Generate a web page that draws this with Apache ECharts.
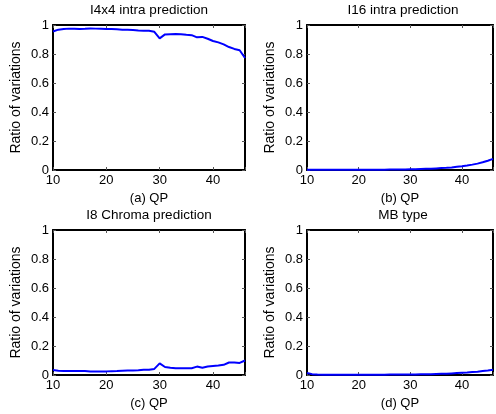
<!DOCTYPE html>
<html>
<head>
<meta charset="utf-8">
<script src="https://cdn.jsdelivr.net/npm/echarts@6/dist/echarts.min.js"></script>
<style>
  html, body { margin: 0; padding: 0; background: #fff; }
  #chart { width: 496px; height: 414px; }
</style>
</head>
<body>
<div id="chart"></div>
<script>
// Quantization parameter values shared by all four panels
const qp = [10, 11, 12, 13, 14, 15, 16, 17, 18, 19, 20, 21, 22, 23, 24, 25, 26, 27, 28,
            29, 30, 31, 32, 33, 34, 35, 36, 37, 38, 39, 40, 41, 42, 43, 44, 45, 46];

// Ratio of variations per prediction mode
const i4x4Intra = [0.955, 0.968, 0.973, 0.975, 0.974, 0.973, 0.974, 0.976, 0.975, 0.974,
                   0.973, 0.972, 0.970, 0.968, 0.967, 0.965, 0.962, 0.960, 0.960, 0.953,
                   0.908, 0.935, 0.937, 0.938, 0.937, 0.932, 0.930, 0.915, 0.918, 0.905,
                   0.890, 0.880, 0.866, 0.848, 0.835, 0.826, 0.772];
const i16Intra = [0.001, 0.001, 0.001, 0.001, 0.001, 0.001, 0.001, 0.001, 0.001, 0.001,
                  0.001, 0.001, 0.002, 0.002, 0.002, 0.002, 0.003, 0.003, 0.004, 0.004,
                  0.005, 0.006, 0.007, 0.008, 0.009, 0.011, 0.013, 0.015, 0.018, 0.022,
                  0.026, 0.031, 0.037, 0.044, 0.053, 0.064, 0.077];
const i8Chroma = [0.034, 0.030, 0.028, 0.028, 0.028, 0.028, 0.027, 0.024, 0.024, 0.025,
                  0.025, 0.026, 0.027, 0.030, 0.031, 0.031, 0.033, 0.037, 0.036, 0.042,
                  0.080, 0.055, 0.050, 0.046, 0.046, 0.047, 0.047, 0.058, 0.050, 0.059,
                  0.062, 0.065, 0.070, 0.086, 0.086, 0.083, 0.100];
const mbType = [0.014, 0.006, 0.003, 0.002, 0.002, 0.002, 0.002, 0.002, 0.002, 0.002,
                0.002, 0.002, 0.002, 0.002, 0.002, 0.002, 0.003, 0.003, 0.003, 0.003,
                0.004, 0.004, 0.005, 0.005, 0.006, 0.007, 0.008, 0.009, 0.011, 0.013,
                0.015, 0.017, 0.020, 0.023, 0.027, 0.031, 0.036];

const panelTitles = ['I4x4 intra prediction', 'I16 intra prediction', 'I8 Chroma prediction', 'MB type'];
const panelXNames = ['(a) QP', '(b) QP', '(c) QP', '(d) QP'];
const panelSeries = [i4x4Intra, i16Intra, i8Chroma, mbType];
const yTicks = [0, 0.2, 0.4, 0.6, 0.8, 1];
const xTicks = [10, 20, 30, 40];

const FONT = '"Liberation Sans", Arial, Helvetica, sans-serif';
const grids = [
  { left: 53, top: 25, width: 192, height: 145 },
  { left: 307, top: 25, width: 192, height: 145 },
  { left: 53, top: 230, width: 192, height: 145 },
  { left: 307, top: 230, width: 192, height: 145 }
];

const option = {
  backgroundColor: '#ffffff',
  animation: false,
  title: [],
  grid: [],
  xAxis: [],
  yAxis: [],
  series: []
};

const boxLine = { show: true, onZero: false, lineStyle: { color: '#000', width: 2 } };
const innerTick = { show: true, inside: true, length: 3, lineStyle: { color: '#555', width: 1 } };

grids.forEach((g, i) => {
  option.grid.push({ left: g.left, top: g.top, width: g.width, height: g.height, containLabel: false });
  option.title.push({
    text: panelTitles[i],
    left: g.left + g.width / 2,
    top: g.top - 22,
    textAlign: 'center',
    padding: 0,
    textStyle: { fontFamily: FONT, fontSize: 13.5, fontWeight: 'normal', color: '#000' }
  });
  // bottom axis with labels
  option.xAxis.push({
    gridIndex: i, type: 'value', position: 'bottom',
    min: xTicks[0], max: qp[qp.length - 1], interval: 10,
    name: panelXNames[i], nameLocation: 'middle', nameGap: 22,
    nameTextStyle: { fontFamily: FONT, fontSize: 13, color: '#000' },
    axisLine: boxLine, axisTick: innerTick,
    axisLabel: {
      fontFamily: FONT, fontSize: 13, color: '#000', margin: 4,
      formatter: v => (xTicks.indexOf(v) >= 0 ? String(v) : '')
    },
    splitLine: { show: false }
  });
  // top border of the box
  option.xAxis.push({
    gridIndex: i, type: 'value', position: 'top',
    min: xTicks[0], max: qp[qp.length - 1], interval: 10,
    axisLine: boxLine, axisTick: innerTick,
    axisLabel: { show: false }, splitLine: { show: false }
  });
  option.yAxis.push({
    gridIndex: i, type: 'value', position: 'left',
    min: yTicks[0], max: yTicks[yTicks.length - 1], interval: 0.2,
    name: 'Ratio of variations', nameLocation: 'middle', nameGap: 30,
    nameTextStyle: { fontFamily: FONT, fontSize: 14, color: '#000' },
    axisLine: boxLine, axisTick: innerTick,
    axisLabel: { fontFamily: FONT, fontSize: 13, color: '#000', margin: 4 },
    splitLine: { show: false }
  });
  // right border of the box
  option.yAxis.push({
    gridIndex: i, type: 'value', position: 'right',
    min: yTicks[0], max: yTicks[yTicks.length - 1], interval: 0.2,
    axisLine: boxLine, axisTick: innerTick,
    axisLabel: { show: false }, splitLine: { show: false }
  });
  option.series.push({
    type: 'line',
    xAxisIndex: i * 2,
    yAxisIndex: i * 2,
    data: qp.map((q, k) => [q, panelSeries[i][k]]),
    showSymbol: false,
    clip: false,
    z: 5,
    lineStyle: { color: '#0000ff', width: 2 }
  });
});

const chart = echarts.init(document.getElementById('chart'), null, { renderer: 'canvas' });
chart.setOption(option);
</script>
</body>
</html>
